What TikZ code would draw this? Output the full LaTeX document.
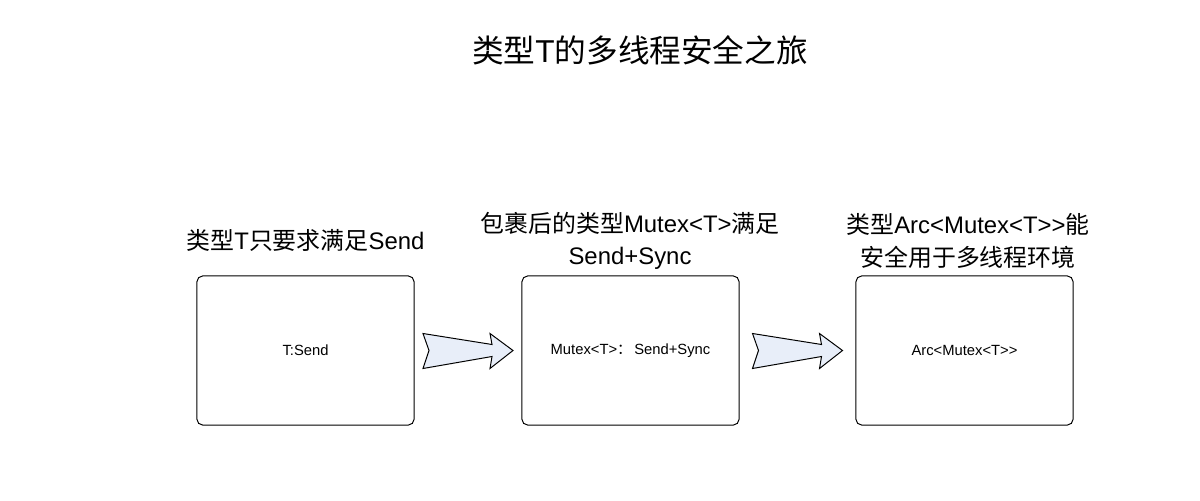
\documentclass[tikz,border=0pt]{standalone}
\usepackage{fontspec}
\setmainfont{Liberation Sans}
\newfontfamily\cjk{Noto Sans CJK SC}
\newcommand{\zh}[1]{{\cjk #1}}
\definecolor{tsLine}{HTML}{000000}
\definecolor{tsText}{HTML}{000000}
\definecolor{tsArrow}{HTML}{E8EEF9}
\usetikzlibrary{calc,positioning}

\tikzset{
  stagebox/.style={draw=tsLine, line width=0.7pt, rounded corners=4pt,
    minimum width=5.425cm, minimum height=3.725cm, inner sep=0pt,
    font=\fontsize{10.5}{12}\selectfont, text=tsText},
  stagelabel/.style={align=center, font=\fontsize{17}{23}\selectfont, text=tsText},
  flowarrow/.style={draw=tsLine, fill=tsArrow, line width=0.7pt, line join=miter}
}

\begin{document}
\begin{tikzpicture}[x=0.025cm, y=-0.025cm]
  \useasboundingbox (0,0) rectangle (1200,500);

  % Title
  \node[text=tsText] (title) at (640,50)
    {\fontsize{22.5}{26}\selectfont\zh{类型}T\zh{的多线程安全之旅}};

  % -- Boxes --
  \node[stagebox] (tsend) at (305.5,350.5) {T:Send};
  \node[stagebox] (mutex) at (630.5,350.5) {Mutex<T>\zh{：}\,Send+Sync};
  \node[stagebox] (arc)   at (964.5,350.5) {Arc<Mutex<T>{}>};

  % -- Labels above the boxes --
  \node[stagelabel] (tsendlabel) at (305.5,240) {\zh{类型}T\zh{只要求满足}Send};
  \node[stagelabel] (mutexlabel) at (630,241)
    {\zh{包裹后的类型}Mutex<T>\zh{满足}\\Send+Sync};
  \node[stagelabel] (arclabel) at (968,241)
    {\zh{类型}Arc<Mutex<T>{}>\zh{能}\\\zh{安全用于多线程环境}};

  % -- Block arrows between boxes --
  \foreach \a/\b in {tsend/mutex, mutex/arc} {
    \coordinate (m) at ($(\a.east)!0.5!(\b.west)$);
    \draw[flowarrow] ($(m)+(-45,-17)$) -- ($(m)+(24,-6)$) -- ($(m)+(22,-17)$)
      -- ($(m)+(45,0)$) -- ($(m)+(22,18)$) -- ($(m)+(24,6)$)
      -- ($(m)+(-45,18)$) -- ($(m)+(-39,0)$) -- cycle;
  }
\end{tikzpicture}
\end{document}
